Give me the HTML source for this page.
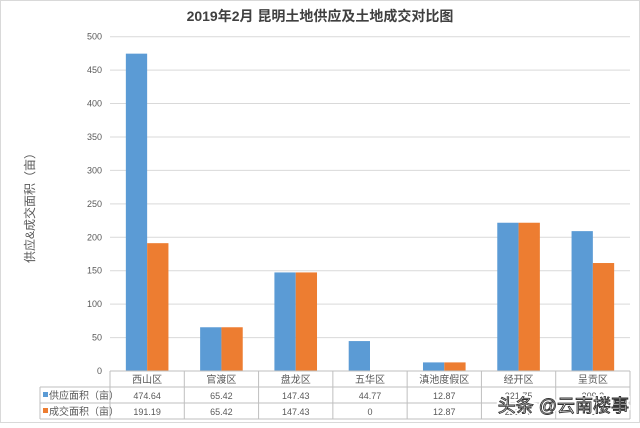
<!DOCTYPE html>
<html><head><meta charset="utf-8"><style>
body{margin:0;background:#fff;}
svg text{font-family:"Liberation Sans","Noto Sans CJK SC",sans-serif;}
</style></head><body>
<svg id="chart" width="640" height="423" xmlns="http://www.w3.org/2000/svg">
<rect x="0.5" y="0.5" width="639" height="422" fill="#fff" stroke="#d9d9d9"/>
<text x="320" y="21" text-anchor="middle" font-size="14" font-weight="bold" fill="#404040">2019年2月 昆明土地供应及土地成交对比图</text>
<text transform="translate(34,205) rotate(-90)" text-anchor="middle" font-size="12" fill="#595959">供应&amp;成交面积（亩）</text>
<g id="grid"></g><g id="bars"></g><g id="table"></g>
<text x="629" y="412" text-anchor="end" font-size="18" fill="#fff" stroke="#fff" stroke-width="4">头条 @云南楼事</text>
<text x="629" y="412" text-anchor="end" font-size="18" fill="#fff" stroke="#333" stroke-width="0.9">头条 @云南楼事</text>
</svg>
<script>
const categories=["西山区","官渡区","盘龙区","五华区","滇池度假区","经开区","呈贡区"];
const supply=[474.64,65.42,147.43,44.77,12.87,221.75,209.2];
const deal=[191.19,65.42,147.43,0,12.87,221.75,161.5];
const supplyLabels=["474.64","65.42","147.43","44.77","12.87","221.75","209.2"];
const dealLabels=["191.19","65.42","147.43","0","12.87","221.75","161.5"];
const ticks=[0,50,100,150,200,250,300,350,400,450,500];
const NS="http://www.w3.org/2000/svg";
const x0=110,x1=630,yZero=371,yTop=36.7,maxV=500;
const cw=(x1-x0)/categories.length;
const y=v=>yZero-(v/maxV)*(yZero-yTop);
function mk(tag,attrs,parent,txt){const e=document.createElementNS(NS,tag);for(const k in attrs)e.setAttribute(k,attrs[k]);if(txt!==undefined)e.textContent=txt;parent.appendChild(e);return e;}
const grid=document.getElementById('grid');
ticks.forEach(t=>{
 const l=mk('line',{x1:x0,x2:x1,y1:y(t),y2:y(t),stroke:'#d9d9d9','stroke-width':1},grid);
 
 
 const tx=mk('text',{x:x0-8,y:y(t)+3,'text-anchor':'end','font-size':9,fill:'#595959'},grid,t);
 
 
});
const bars=document.getElementById('bars');
const bw=21.3;
categories.forEach((c,i)=>{
 const cx=x0+cw*i+cw/2;
 const b=mk('rect',{x:cx-bw,y:y(supply[i]),width:bw,height:yZero-y(supply[i]),fill:'#5b9bd5'},bars);
 
 
 const o=mk('rect',{x:cx,y:y(deal[i]),width:bw,height:yZero-y(deal[i]),fill:'#ed7d31'},bars);
 
 
});
const tb=document.getElementById('table');
const lc='#bfbfbf';
mk('line',{x1:x0,x2:x1,y1:371,y2:371,stroke:lc},tb);
[387,403,419].forEach(r=>mk('line',{x1:40,x2:x1,y1:r,y2:r,stroke:lc},tb));
mk('line',{x1:40,x2:40,y1:387,y2:419,stroke:lc},tb);
for(let i=0;i<=categories.length;i++){mk('line',{x1:x0+cw*i,x2:x0+cw*i,y1:371,y2:419,stroke:lc},tb);}
categories.forEach((c,i)=>{
 const cx=x0+cw*i+cw/2;
 const t=mk('text',{x:cx,y:383,'text-anchor':'middle','font-size':10,fill:'#595959'},tb,c);
 
 
 const s=mk('text',{x:cx,y:399,'text-anchor':'middle','font-size':9,fill:'#595959'},tb,supplyLabels[i]);
 
 
 const d=mk('text',{x:cx,y:415,'text-anchor':'middle','font-size':9,fill:'#595959'},tb,dealLabels[i]);
 
 
});
const k1=mk('rect',{x:43,y:392,width:5,height:5,fill:'#5b9bd5'},tb);


const l1=mk('text',{x:49,y:399,'font-size':10,fill:'#595959'},tb,'供应面积（亩）');


const k2=mk('rect',{x:43,y:408,width:5,height:5,fill:'#ed7d31'},tb);


const l2=mk('text',{x:49,y:415,'font-size':10,fill:'#595959'},tb,'成交面积（亩）');


</script>
</body></html>
